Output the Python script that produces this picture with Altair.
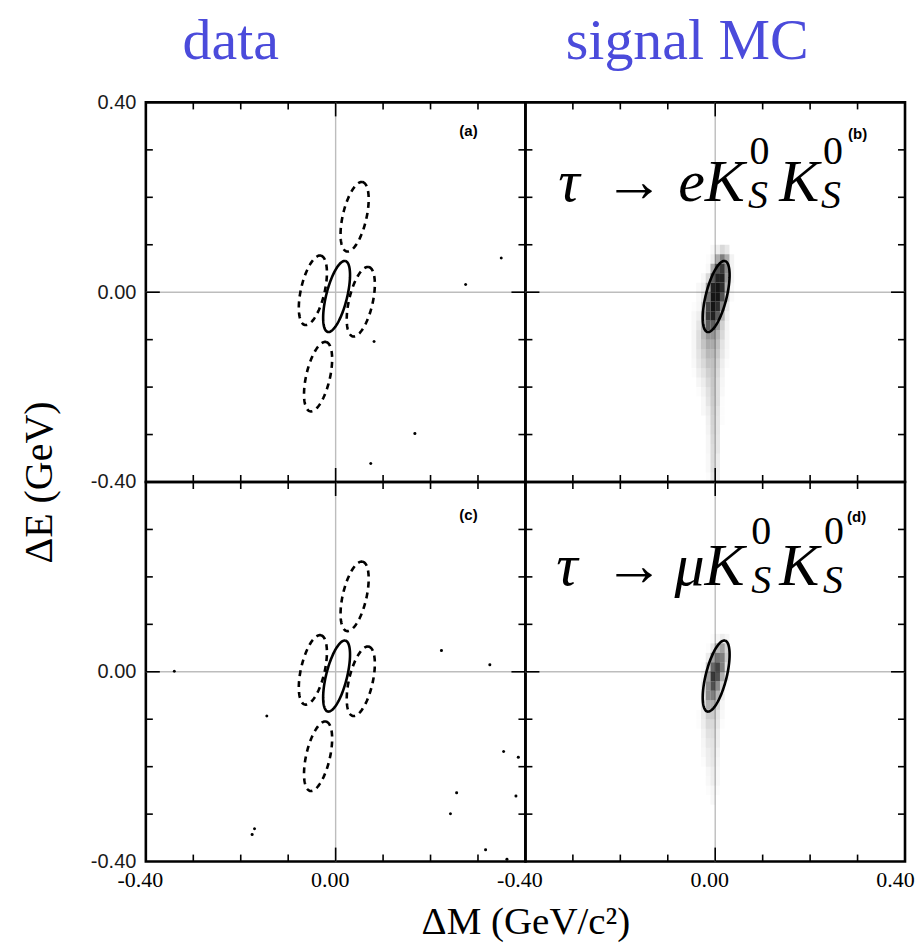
import altair as alt
import pandas as pd
import numpy as np

# ---------------- data ----------------
# data candidates (panel a: tau -> e Ks Ks, panel c: tau -> mu Ks Ks)
panel_a_dm = [0.349, 0.274, 0.081, 0.167, 0.074]
panel_a_de = [0.072, 0.016, -0.104, -0.298, -0.361]
panel_c_dm = [-0.340, -0.145, 0.223, 0.325, 0.354, 0.385, 0.255, 0.380, 0.242, -0.171, -0.176, 0.316, 0.361]
panel_c_de = [0.001, -0.093, 0.045, 0.015, -0.168, -0.180, -0.255, -0.262, -0.299, -0.331, -0.343, -0.375, -0.395]

# signal ellipse + four sideband ellipses (centre, semi-axes, tilt from vertical in degrees)
ell_name = ["signal", "upper", "lower", "left", "right"]
ell_cx = [0.002, 0.040, -0.037, -0.048, 0.053]
ell_cy = [-0.009, 0.159, -0.178, 0.004, -0.020]
ell_a = [0.077, 0.075, 0.075, 0.075, 0.075]
ell_b = [0.022, 0.025, 0.025, 0.025, 0.025]
ell_tilt = [14, 13, 13, 13, 13]

# signal MC density (relative), cells 0.01 (dM) x 0.02 (dE)
mc_x = [-0.045, -0.035, -0.025, -0.015, -0.005, 0.005, 0.015, 0.025, 0.035]
mc_y_b = [0.09, 0.07, 0.05, 0.03, 0.01, -0.01, -0.03, -0.05, -0.07, -0.09, -0.11, -0.13, -0.15,
          -0.17, -0.19, -0.21, -0.23, -0.25, -0.27, -0.29, -0.31, -0.33, -0.35, -0.37, -0.39]
mc_b = [
    [0, 0, 0, 0, 0.03, 0.08, 0.16, 0.1, 0],
    [0, 0, 0, 0.01, 0.08, 0.35, 0.55, 0.35, 0.05],
    [0, 0, 0, 0.03, 0.35, 0.75, 0.85, 0.5, 0.05],
    [0, 0, 0.03, 0.16, 0.7, 0.95, 0.95, 0.45, 0.05],
    [0, 0.03, 0.07, 0.4, 0.95, 1.0, 0.9, 0.35, 0.03],
    [0, 0.03, 0.11, 0.6, 1.0, 1.0, 0.75, 0.2, 0.02],
    [0.01, 0.04, 0.2, 0.8, 1.0, 0.9, 0.5, 0.11, 0],
    [0.03, 0.07, 0.32, 0.85, 0.95, 0.7, 0.32, 0.07, 0],
    [0.03, 0.11, 0.32, 0.7, 0.7, 0.45, 0.2, 0.05, 0],
    [0.04, 0.14, 0.3, 0.45, 0.45, 0.32, 0.16, 0.04, 0],
    [0.04, 0.14, 0.25, 0.36, 0.36, 0.27, 0.12, 0.04, 0],
    [0.04, 0.12, 0.2, 0.3, 0.3, 0.23, 0.1, 0.03, 0],
    [0.03, 0.1, 0.16, 0.25, 0.27, 0.19, 0.07, 0.01, 0],
    [0.01, 0.07, 0.12, 0.2, 0.25, 0.16, 0.05, 0, 0],
    [0, 0.04, 0.08, 0.16, 0.24, 0.14, 0.04, 0, 0],
    [0, 0.01, 0.05, 0.13, 0.23, 0.14, 0.03, 0, 0],
    [0, 0, 0.03, 0.11, 0.22, 0.14, 0.01, 0, 0],
    [0, 0, 0.03, 0.08, 0.2, 0.12, 0.01, 0, 0],
    [0, 0, 0, 0.06, 0.19, 0.11, 0.01, 0, 0],
    [0, 0, 0, 0.05, 0.18, 0.11, 0, 0, 0],
    [0, 0, 0, 0.04, 0.16, 0.1, 0, 0, 0],
    [0, 0, 0, 0.04, 0.15, 0.1, 0, 0, 0],
    [0, 0, 0, 0.03, 0.15, 0.08, 0, 0, 0],
    [0, 0, 0, 0.03, 0.14, 0.08, 0, 0, 0],
    [0, 0, 0, 0.01, 0.12, 0.07, 0, 0, 0],
]
mc_y_d = [0.07, 0.05, 0.03, 0.01, -0.01, -0.03, -0.05, -0.07, -0.09, -0.11, -0.13, -0.15,
          -0.17, -0.19, -0.21, -0.23, -0.25, -0.27]
mc_d = [
    [0, 0, 0, 0, 0.01, 0.04, 0.08, 0.04, 0],
    [0, 0, 0, 0.01, 0.1, 0.3, 0.4, 0.18, 0],
    [0, 0, 0, 0.08, 0.4, 0.6, 0.55, 0.22, 0],
    [0, 0, 0.01, 0.22, 0.65, 0.8, 0.55, 0.12, 0],
    [0, 0, 0.04, 0.4, 0.85, 0.75, 0.35, 0.05, 0],
    [0, 0, 0.08, 0.5, 0.75, 0.5, 0.18, 0.01, 0],
    [0, 0, 0.1, 0.5, 0.55, 0.32, 0.08, 0, 0],
    [0, 0, 0.1, 0.35, 0.35, 0.18, 0.04, 0, 0],
    [0, 0.01, 0.09, 0.22, 0.22, 0.12, 0.03, 0, 0],
    [0, 0.01, 0.07, 0.16, 0.16, 0.1, 0.01, 0, 0],
    [0, 0, 0.05, 0.13, 0.14, 0.08, 0, 0, 0],
    [0, 0, 0.04, 0.1, 0.12, 0.07, 0, 0, 0],
    [0, 0, 0.03, 0.08, 0.11, 0.05, 0, 0, 0],
    [0, 0, 0.01, 0.07, 0.1, 0.04, 0, 0, 0],
    [0, 0, 0, 0.04, 0.08, 0.03, 0, 0, 0],
    [0, 0, 0, 0.03, 0.07, 0.03, 0, 0, 0],
    [0, 0, 0, 0.01, 0.04, 0.01, 0, 0, 0],
    [0, 0, 0, 0, 0.03, 0, 0, 0, 0],
]

minor_ticks = [-0.3, -0.2, -0.1, 0.1, 0.2, 0.3]
major_ticks = [0.0]
left_labels_top = [0.4, 0.0, -0.4]
left_labels_bottom = [0.0, -0.4]
bottom_labels_left = [-0.4, 0.0]
bottom_labels_right = [-0.4, 0.0, 0.4]

panel_letters = ["(a)", "(b)", "(c)", "(d)"]
letter_x = [0.28, 0.30, 0.28, 0.298]
letter_y = [0.34, 0.334, 0.33, 0.327]

# formula pieces: text, dM, dE, font size, italic?
form_b_text = ["τ", "→", "eK", "0", "S", "K", "0", "S"]
form_b_x = [-0.331, -0.234, -0.078, 0.072, 0.069, 0.135, 0.227, 0.223]
form_b_y = [0.193, 0.193, 0.193, 0.271, 0.178, 0.193, 0.271, 0.178]
form_d_text = ["τ", "→", "μK", "0", "S", "K", "0", "S"]
form_d_x = [-0.335, -0.234, -0.086, 0.076, 0.076, 0.135, 0.229, 0.227]
form_d_y = [0.182, 0.182, 0.182, 0.270, 0.167, 0.182, 0.270, 0.167]
form_size = [60, 60, 60, 40, 40, 60, 40, 40]
form_italic = [True, False, True, False, True, True, False, True]

# ---------------- build ----------------
W = 380
H = 380
xs = alt.Scale(domain=[-0.4, 0.4], nice=False, zero=False)
ys = alt.Scale(domain=[-0.4, 0.4], nice=False, zero=False)
BLUE = "#4b4bdb"
MINUS_FIX = "replace(format(datum.value, '.2f'), '\u2212', '-')"

t = np.linspace(0, 2 * np.pi, 121)
ell_rows = []
for nm, cx, cy, a, b, tilt in zip(ell_name, ell_cx, ell_cy, ell_a, ell_b, ell_tilt):
    th = np.radians(tilt)
    ux, uy = np.sin(th), np.cos(th)
    vx, vy = np.cos(th), -np.sin(th)
    for i, tt in enumerate(t):
        ell_rows.append(dict(name=nm, i=i,
                             x=cx + a * np.cos(tt) * ux + b * np.sin(tt) * vx,
                             y=cy + a * np.cos(tt) * uy + b * np.sin(tt) * vy))
ell_df = pd.DataFrame(ell_rows)


def grid_df(ycent, grid):
    rows = []
    for yc, row in zip(ycent, grid):
        for xc, d in zip(mc_x, row):
            if d > 0:
                rows.append(dict(x1=xc - 0.005, x2=xc + 0.005, y1=yc - 0.01, y2=yc + 0.01, d=d))
    return pd.DataFrame(rows)


def panel(idx, yax, xax, points=None, grid=None, sidebands=False, formula=None, title=None):
    def X(f):
        return alt.X(f, scale=xs, axis=xax)

    def Y(f):
        return alt.Y(f, scale=ys, axis=yax)

    zero = pd.DataFrame({"z": [0.0]})
    gx = alt.Chart(zero).mark_rule(color="#bdbdbd", strokeWidth=1.4).encode(x=X("z:Q"))
    gy = alt.Chart(zero).mark_rule(color="#bdbdbd", strokeWidth=1.4).encode(y=Y("z:Q"))
    layers = [gx, gy]
    if grid is not None:
        layers.append(alt.Chart(grid).mark_rect(color="#151515").encode(
            x=X("x1:Q"), x2="x2:Q", y=Y("y1:Q"), y2="y2:Q",
            opacity=alt.Opacity("d:Q", scale=None, legend=None)))
    if points is not None:
        layers.append(alt.Chart(points).mark_circle(color="black", size=9, opacity=1).encode(
            x=X("dm:Q"), y=Y("de:Q")))
    sig = ell_df[ell_df.name == "signal"]
    layers.append(alt.Chart(sig).mark_line(color="black", strokeWidth=2.6).encode(
        x=X("x:Q"), y=Y("y:Q"), order="i:Q", detail="name:N"))
    if sidebands:
        sb = ell_df[ell_df.name != "signal"]
        layers.append(alt.Chart(sb).mark_line(color="black", strokeWidth=2.6, strokeDash=[6, 5]).encode(
            x=X("x:Q"), y=Y("y:Q"), order="i:Q", detail="name:N"))
    for vals, L in ((minor_ticks, 7), (major_ticks, 14)):
        df = pd.DataFrame({"t": vals})
        base = alt.Chart(df).mark_rule(color="black", strokeWidth=1.6)
        layers.append(base.encode(x=X("t:Q"), y=alt.value(H), y2=alt.value(H - L)))
        layers.append(base.encode(x=X("t:Q"), y=alt.value(0), y2=alt.value(L)))
        layers.append(base.encode(y=Y("t:Q"), x=alt.value(0), x2=alt.value(L)))
        layers.append(base.encode(y=Y("t:Q"), x=alt.value(W), x2=alt.value(W - L)))
    lab = pd.DataFrame({"text": [panel_letters[idx]], "x": [letter_x[idx]], "y": [letter_y[idx]]})
    layers.append(alt.Chart(lab).mark_text(font="Liberation Sans", fontWeight="bold", fontSize=15,
                                           color="black").encode(
        x=X("x:Q"), y=Y("y:Q"), text="text:N"))
    if formula is not None:
        ftext, fx, fy = formula
        fdf = pd.DataFrame({"text": ftext, "x": fx, "y": fy, "fs": form_size, "it": form_italic})
        for it, style in ((True, "italic"), (False, "normal")):
            layers.append(alt.Chart(fdf[fdf.it == it]).mark_text(
                font="Liberation Serif", fontStyle=style, align="left", baseline="alphabetic",
                color="black").encode(
                x=X("x:Q"), y=Y("y:Q"),
                text="text:N", size=alt.Size("fs:Q", scale=None, legend=None)))
    ch = alt.layer(*layers).properties(width=W, height=H)
    if title is not None:
        txt, dx, off = title
        ch = ch.properties(title=alt.TitleParams(txt, font="Liberation Serif", fontSize=58,
                                                 fontWeight="normal", color=BLUE, anchor="middle",
                                                 dx=dx, offset=off, baseline="alphabetic"))
    return ch


def yaxis(values, with_title):
    kw = dict(values=values, labelExpr=MINUS_FIX, labelFont="Liberation Sans", labelFontSize=20,
              labelColor="#1a1a1a", labelPadding=10, ticks=False, domain=False, grid=False)
    if with_title:
        kw.update(title="ΔE (GeV)", titleFont="Liberation Serif", titleFontSize=40,
                  titleFontWeight="normal", titleColor="black", titleX=-94, titleY=H,
                  titleAlign="center", titleBaseline="alphabetic", titleAngle=270)
    else:
        kw.update(title=None)
    return alt.Axis(**kw)


def xaxis(values, with_title):
    kw = dict(values=values, labelExpr=MINUS_FIX, labelFont="Liberation Serif", labelFontSize=22,
              labelColor="black", labelPadding=8, labelFlush=False,
              labelOffset={"condition": {"test": "datum.value > 0.3", "value": -10}, "value": -6},
              ticks=False, domain=False, grid=False)
    if with_title:
        kw.update(title="ΔM (GeV/c²)", titleFont="Liberation Serif", titleFontSize=39,
                  titleFontWeight="normal", titleColor="black", titleX=W, titleY=72,
                  titleAlign="center", titleBaseline="alphabetic")
    else:
        kw.update(title=None)
    return alt.Axis(**kw)


pts_a = pd.DataFrame({"dm": panel_a_dm, "de": panel_a_de})
pts_c = pd.DataFrame({"dm": panel_c_dm, "de": panel_c_de})

pa = panel(0, yaxis(left_labels_top, True), None, points=pts_a, sidebands=True, title=("data", -105, -25))
pb = panel(1, None, None, grid=grid_df(mc_y_b, mc_b), formula=(form_b_text, form_b_x, form_b_y),
           title=("signal MC", -28, -15))
pc = panel(2, yaxis(left_labels_bottom, False), xaxis(bottom_labels_left, True), points=pts_c, sidebands=True)
pd_ = panel(3, None, xaxis(bottom_labels_right, False), grid=grid_df(mc_y_d, mc_d),
            formula=(form_d_text, form_d_x, form_d_y))

chart = alt.concat(pa, pb, pc, pd_, columns=2, spacing=0).properties(
    bounds="flush",
    padding={"left": 10, "top": 2, "right": 0, "bottom": 0},
    background="white",
).configure_view(stroke="black", strokeWidth=2.6)

chart.save("out.html", embed_options={"renderer": "svg", "actions": False})
